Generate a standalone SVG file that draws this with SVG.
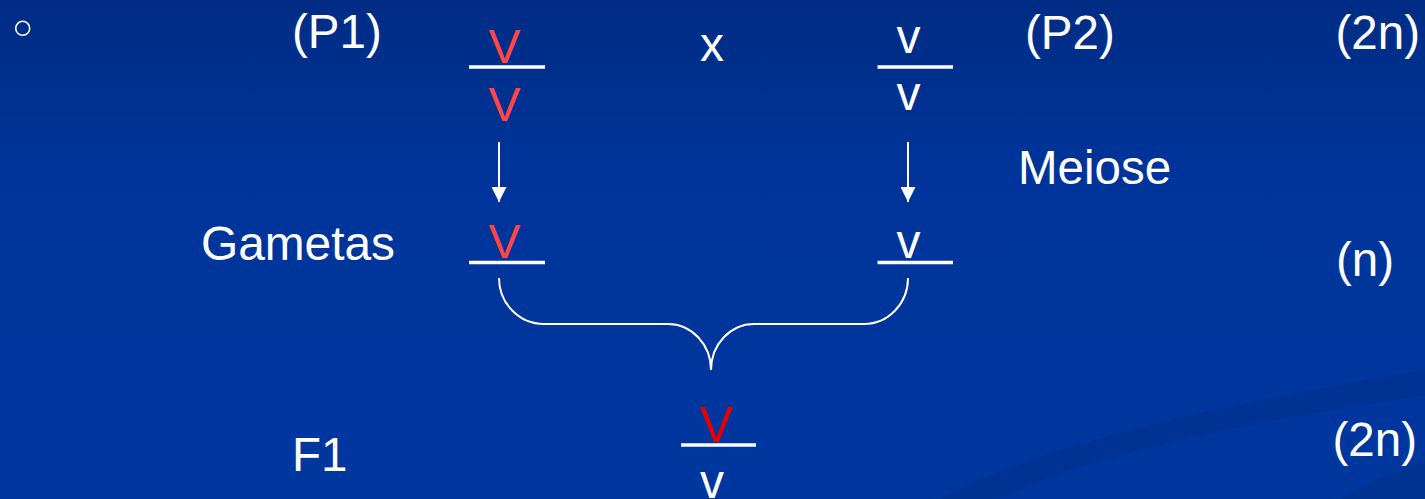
<svg xmlns="http://www.w3.org/2000/svg" width="1425" height="499" viewBox="0 0 1425 499">
  <style>
    .lbl { font-family: "Liberation Sans", Arial, sans-serif; font-size: 47.5px; fill: #ffffff; }
    .al { font-family: "Liberation Sans", Arial, sans-serif; font-size: 48px; fill: #ffffff; text-anchor: middle; }
    .red { fill: #ff4646; }
    .bar { stroke: #ffffff; stroke-width: 3.4; }
    .conn { stroke: #ffffff; stroke-width: 2; fill: none; }
  </style>
  <defs>
    <linearGradient id="bg" x1="0" y1="0" x2="0" y2="1">
      <stop offset="0" stop-color="#002c84"/>
      <stop offset="0.35" stop-color="#00349a"/>
      <stop offset="1" stop-color="#00379f"/>
    </linearGradient>
    <marker id="ah" markerWidth="15" markerHeight="15" refX="15" refY="7.5" orient="auto" markerUnits="userSpaceOnUse">
      <path d="M0,0 L15,7.5 L0,15 Z" fill="#ffffff"/>
    </marker>
  </defs>
  <rect x="0" y="0" width="1425" height="499" fill="url(#bg)"/>
  <path d="M940,499 C1050,440 1250,400 1425,370 L1425,395 C1260,420 1100,450 1000,499 Z" fill="#00318f" opacity="0.7"/>
  <path d="M1340,499 C1370,480 1400,470 1425,462 L1425,499 Z" fill="#00318f" opacity="0.7"/>

  <circle cx="22.7" cy="28.3" r="7" fill="none" stroke="#ffffff" stroke-width="1.6"/>

  <g id="label-p1"><text class="lbl" x="292" y="48">(P1)</text></g>
  <g id="label-p2"><text class="lbl" x="1025" y="49">(P2)</text></g>
  <g id="label-2n-top"><text class="lbl" x="1420" y="49" text-anchor="end">(2n)</text></g>
  <g id="label-meiose"><text class="lbl" x="1018" y="184">Meiose</text></g>
  <g id="label-n"><text class="lbl" x="1336" y="276">(n)</text></g>
  <g id="label-gametas"><text class="lbl" x="201" y="260" textLength="194" lengthAdjust="spacingAndGlyphs">Gametas</text></g>
  <g id="label-f1"><text class="lbl" x="292" y="471">F1</text></g>
  <g id="label-2n-bottom"><text class="lbl" x="1417" y="456" text-anchor="end">(2n)</text></g>

  <g id="cross-x"><text class="al" x="712" y="61">x</text></g>

  <g id="p1-genotype">
    <text class="al red" x="504.5" y="62.5">V</text>
    <line class="bar" x1="469" y1="67" x2="545" y2="67"/>
    <text class="al red" x="504.5" y="120.5">V</text>
  </g>
  <g id="p2-genotype">
    <text class="al" x="908.5" y="53">v</text>
    <line class="bar" x1="877.5" y1="67" x2="953" y2="67"/>
    <text class="al" x="908.5" y="110">v</text>
  </g>
  <g id="gamete-p1">
    <text class="al red" x="504.5" y="258">V</text>
    <line class="bar" x1="469" y1="262.5" x2="545" y2="262.5"/>
  </g>
  <g id="gamete-p2">
    <text class="al" x="908.5" y="258">v</text>
    <line class="bar" x1="877.5" y1="262.5" x2="953" y2="262.5"/>
  </g>
  <g id="f1-genotype">
    <text class="al" x="716.5" y="441.5" style="fill:#e80000;font-size:50px">V</text>
    <line class="bar" x1="681" y1="445" x2="756" y2="445"/>
    <text class="al" x="712" y="498">v</text>
  </g>

  <g id="connectors">
    <line class="conn" x1="499" y1="142" x2="499" y2="202" marker-end="url(#ah)"/>
    <line class="conn" x1="908" y1="142" x2="908" y2="202" marker-end="url(#ah)"/>
    <path class="conn" d="M499,278 A45,46 0 0 0 544,324 L668,324 A43,46 0 0 1 711,370"/>
    <path class="conn" d="M908,278 A44,46 0 0 1 864,324 L754,324 A43,46 0 0 0 711,370"/>
  </g>
</svg>
